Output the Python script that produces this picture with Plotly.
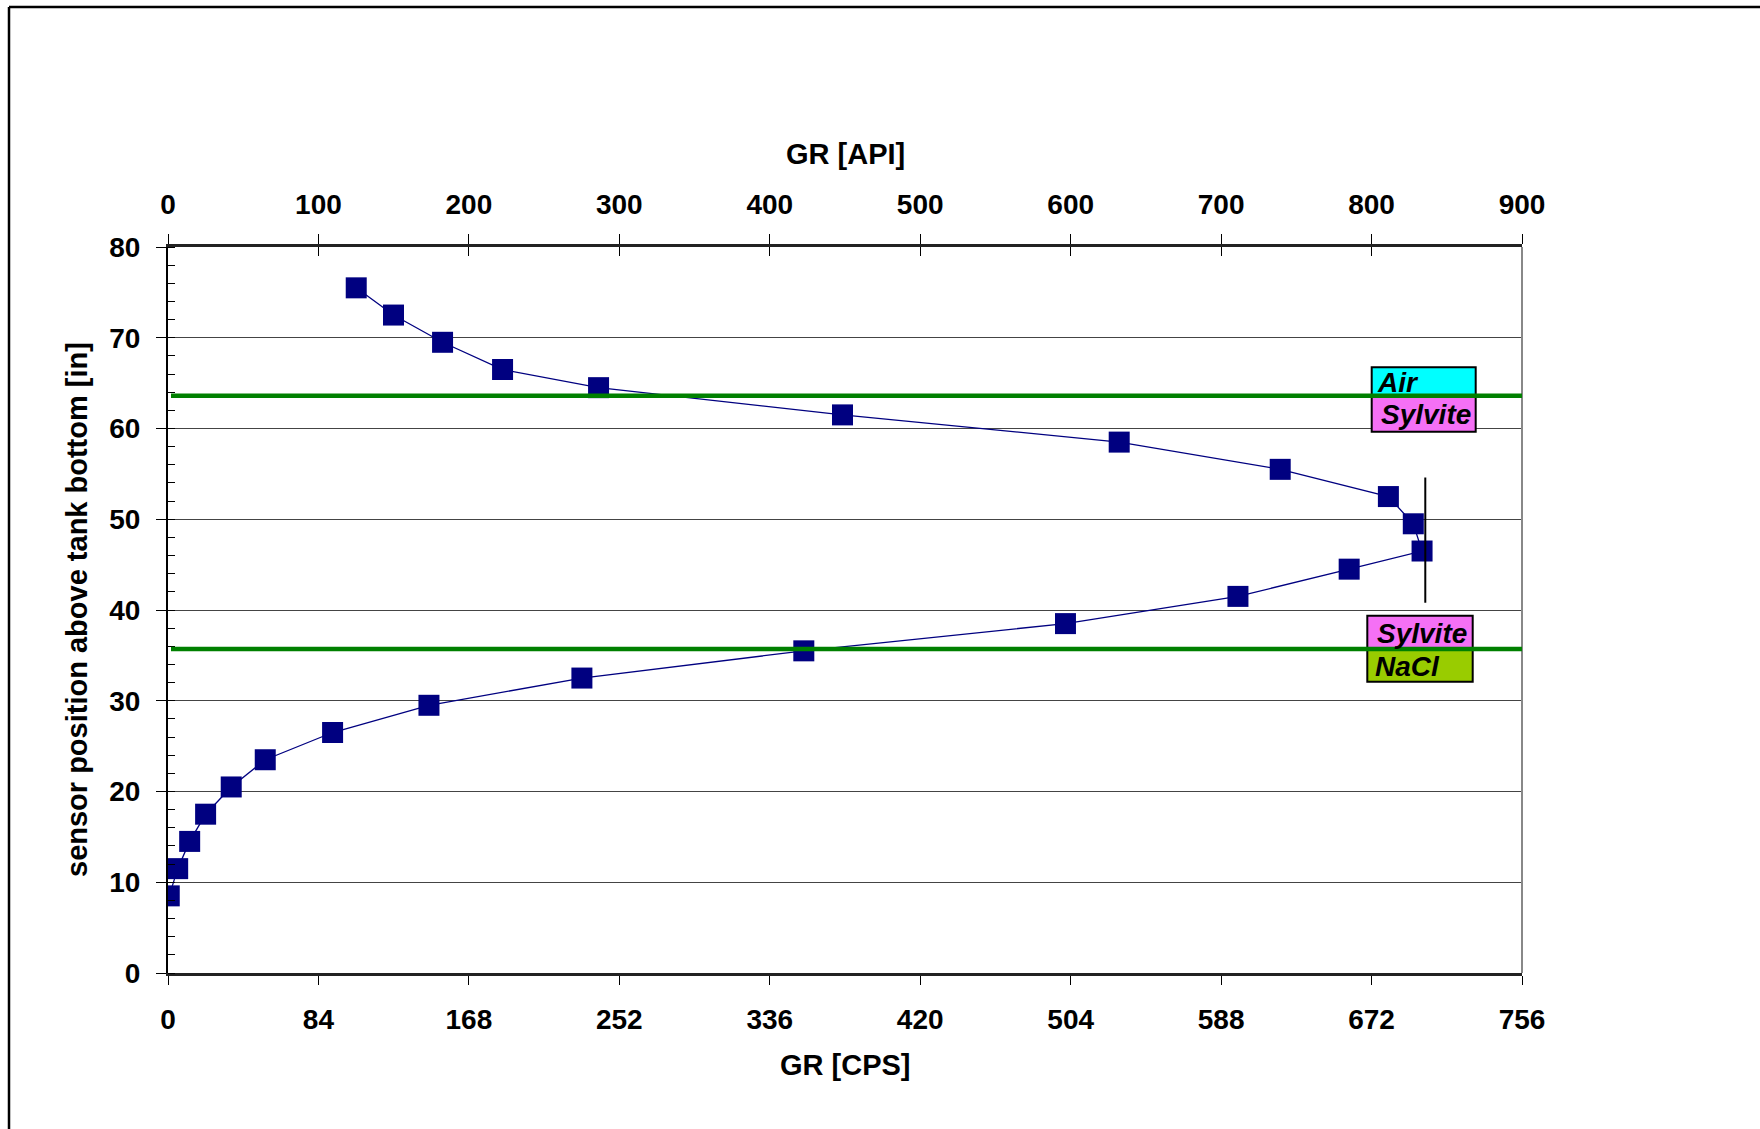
import plotly.graph_objects as go

# ---------------- data ----------------
sensor_position_in = [8.5, 11.5, 14.5, 17.5, 20.5, 23.5, 26.5, 29.5, 32.5, 35.5, 38.5,
                      41.5, 44.5, 46.5, 49.5, 52.5, 55.5, 58.5, 61.5, 64.5, 66.5, 69.5,
                      72.5, 75.5]
gr_cps = [0.7, 5.4, 12.1, 21.0, 35.3, 54.3, 91.9, 145.7, 231.1, 355.0, 501.1,
          597.4, 659.5, 700.2, 695.3, 681.4, 621.0, 531.1, 376.6, 240.4, 186.8, 153.3,
          125.9, 105.1]

cps_ticks = [0, 84, 168, 252, 336, 420, 504, 588, 672, 756]
api_ticks = [0, 100, 200, 300, 400, 500, 600, 700, 800, 900]
y_ticks = [0, 10, 20, 30, 40, 50, 60, 70, 80]

boundary_y = [63.6, 35.7]          # Air/Sylvite and Sylvite/NaCl contacts
max_line_x = [702, 702]            # vertical marker at the peak
max_line_y = [40.8, 54.6]

CPS_PER_API = 756 / 900
gr_api = [c / CPS_PER_API for c in gr_cps]

# ---------------- layout geometry (pixels) ----------------
FW, FH = 1760, 1129
L, R, T, B = 168, 1522, 247, 973
W, H = R - L, B - T


def px(x):
    return (x - L) / W


def py(y):
    return (B - y) / H


FONT = "Liberation Sans, Arial, sans-serif"
NAVY = "#000080"

fig = go.Figure()
# invisible copies on the API axes so that the top axes get drawn
fig.add_trace(go.Scatter(x=gr_api, y=sensor_position_in, xaxis="x2", mode="markers",
                         marker=dict(opacity=0), showlegend=False, hoverinfo="skip"))
fig.add_trace(go.Scatter(x=gr_api, y=sensor_position_in, xaxis="x3", mode="markers",
                         marker=dict(opacity=0), showlegend=False, hoverinfo="skip"))

fig.add_trace(go.Scatter(
    x=gr_cps, y=sensor_position_in, mode="lines+markers",
    line=dict(color=NAVY, width=1.3),
    marker=dict(symbol="square", size=21, color=NAVY, line=dict(width=0)),
    showlegend=False, hoverinfo="x+y"))

fig.add_trace(go.Scatter(
    x=max_line_x, y=max_line_y, mode="lines",
    line=dict(color="black", width=2), showlegend=False, hoverinfo="skip"))

tickfont = dict(family=FONT, size=28, color="black", weight="bold")

fig.update_layout(
    width=FW, height=FH,
    margin=dict(l=L, r=FW - R, t=T, b=FH - B, pad=0),
    paper_bgcolor="white", plot_bgcolor="white",
    showlegend=False,
    xaxis=dict(range=[0, 756], tickvals=cps_ticks, ticktext=[str(v) for v in cps_ticks],
               ticks="outside", ticklen=9, tickwidth=1, tickcolor="black",
               showline=True, linecolor="#222", linewidth=3, showgrid=False,
               zeroline=False, tickfont=tickfont, ticklabelstandoff=10,
               fixedrange=True),
    xaxis2=dict(range=[0, 900], tickvals=api_ticks, ticktext=[str(v) for v in api_ticks],
                overlaying="x", side="top", anchor="y",
                ticks="outside", ticklen=10, tickwidth=1, tickcolor="black",
                showline=True, linecolor="#222", linewidth=3, showgrid=False,
                zeroline=False, tickfont=tickfont, ticklabelstandoff=9),
    xaxis3=dict(range=[0, 900], tickvals=api_ticks, overlaying="x", side="top", anchor="y",
                ticks="inside", ticklen=9, tickwidth=1, tickcolor="black",
                showticklabels=False, showline=False, showgrid=False, zeroline=False),
    yaxis=dict(range=[0, 80], tickvals=y_ticks, ticks="outside", ticklen=10, tickwidth=1,
               tickcolor="black", showline=True, linecolor="black", linewidth=2,
               showgrid=True, gridcolor="#444", gridwidth=1, zeroline=False,
               tickfont=tickfont, ticklabelstandoff=10,
               minor=dict(dtick=2, ticks="inside", ticklen=7, tickwidth=1,
                          tickcolor="black", showgrid=False)),
)

shapes = []
# outer frame (left and top edges)
shapes.append(dict(type="line", xref="paper", yref="paper", x0=px(9), x1=px(FW + 5),
                   y0=py(7), y1=py(7), line=dict(color="black", width=2.5)))
shapes.append(dict(type="line", xref="paper", yref="paper", x0=px(9), x1=px(9),
                   y0=py(7), y1=py(FH + 5), line=dict(color="black", width=2.5)))
# right plot-area border
shapes.append(dict(type="line", xref="paper", yref="paper", x0=1, x1=1, y0=0, y1=1,
                   line=dict(color="#888", width=2)))

# label boxes (pixel positions)
boxes = [
    ("Air", 1371.7, 1475.7, 367.3, 395.7, "#00FFFF", "left", 1375),
    ("Sylvite", 1371.7, 1475.7, 396.0, 431.7, "#F570F5", "center", None),
    ("Sylvite", 1367.3, 1472.7, 615.7, 648.3, "#F570F5", "center", None),
    ("NaCl", 1367.3, 1472.7, 648.3, 681.7, "#99CC00", "left", 1373),
]
annotations = []
for text, x0, x1, y0, y1, col, align, tx in boxes:
    shapes.append(dict(type="rect", xref="paper", yref="paper",
                       x0=px(x0), x1=px(x1), y0=py(y1), y1=py(y0),
                       fillcolor=col, line=dict(color="black", width=2)))
    if align == "left":
        ax, xan = px(tx), "left"
    else:
        ax, xan = px((x0 + x1) / 2 + 2), "center"
    annotations.append(dict(text=text, xref="paper", yref="paper", x=ax, xanchor=xan,
                            y=py((y0 + y1) / 2 + 1), yanchor="middle", showarrow=False,
                            font=dict(family=FONT, size=28, color="black",
                                      weight="bold", style="italic")))

# contact lines
for yv in boundary_y:
    shapes.append(dict(type="line", xref="paper", yref="y", x0=px(171), x1=1,
                       y0=yv, y1=yv, line=dict(color="#008000", width=4.5)))

titlefont = dict(family=FONT, size=29, color="black", weight="bold")
annotations += [
    dict(text="GR [API]", xref="paper", yref="paper", x=0.5, y=py(154),
         xanchor="center", yanchor="middle", showarrow=False, font=titlefont),
    dict(text="GR [CPS]", xref="paper", yref="paper", x=0.5, y=py(1065),
         xanchor="center", yanchor="middle", showarrow=False, font=titlefont),
    dict(text="sensor position above tank bottom [in]", xref="paper", yref="paper",
         x=px(77), y=0.5, xanchor="center", yanchor="middle", textangle=-90,
         showarrow=False, font=titlefont),
]

fig.update_layout(shapes=shapes, annotations=annotations)
fig.write_html("out.html")
